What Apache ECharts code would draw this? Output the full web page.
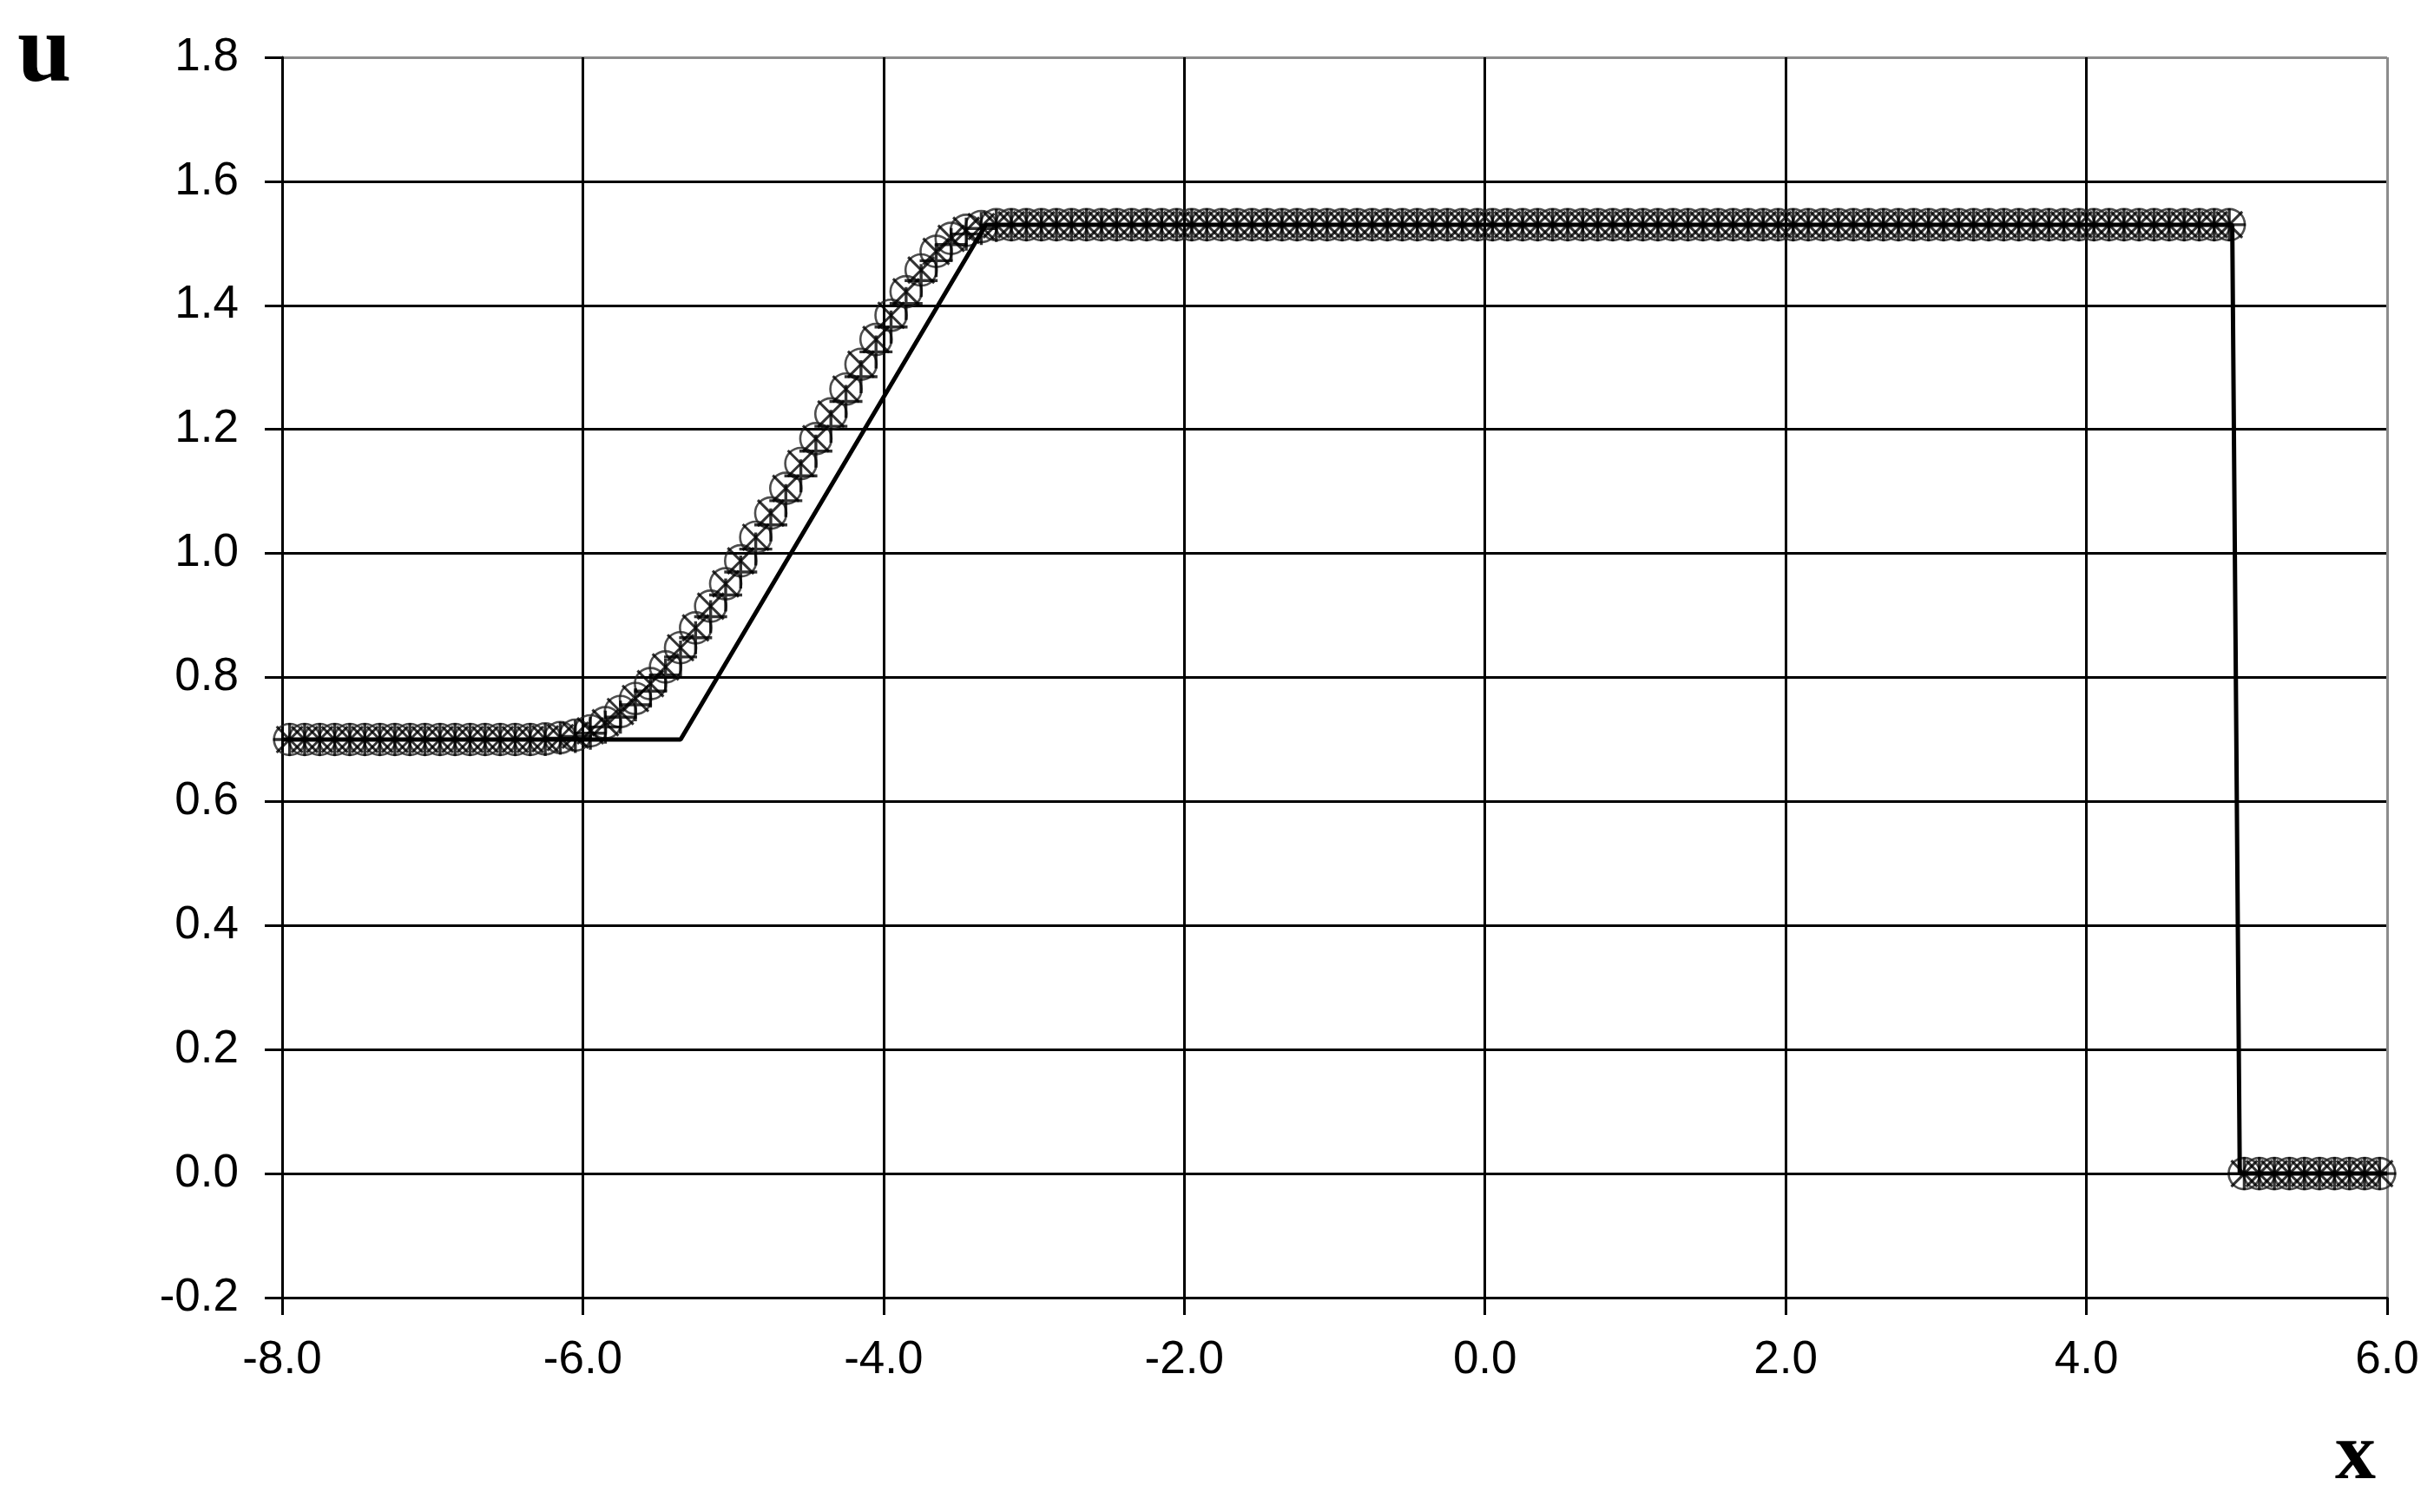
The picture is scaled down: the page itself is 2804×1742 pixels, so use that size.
<!DOCTYPE html>
<html>
<head>
<meta charset="utf-8">
<script src="https://cdn.jsdelivr.net/npm/echarts@6/dist/echarts.min.js"></script>
<style>
html,body{margin:0;padding:0;background:#fff;}
#chart{width:2804px;height:1742px;}
</style>
</head>
<body>
<div id="chart"></div>
<script>
// Cell-centre positions of the numerical solutions
var cellX = [
  -7.95,-7.85,-7.75,-7.65,-7.55,-7.45,-7.35,-7.25,-7.15,-7.05,
  -6.95,-6.85,-6.75,-6.65,-6.55,-6.45,-6.35,-6.25,-6.15,-6.05,
  -5.95,-5.85,-5.75,-5.65,-5.55,-5.45,-5.35,-5.25,-5.15,-5.05,
  -4.95,-4.85,-4.75,-4.65,-4.55,-4.45,-4.35,-4.25,-4.15,-4.05,
  -3.95,-3.85,-3.75,-3.65,-3.55,-3.45,-3.35,-3.25,-3.15,-3.05,
  -2.95,-2.85,-2.75,-2.65,-2.55,-2.45,-2.35,-2.25,-2.15,-2.05,
  -1.95,-1.85,-1.75,-1.65,-1.55,-1.45,-1.35,-1.25,-1.15,-1.05,
  -0.95,-0.85,-0.75,-0.65,-0.55,-0.45,-0.35,-0.25,-0.15,-0.05,
  0.05,0.15,0.25,0.35,0.45,0.55,0.65,0.75,0.85,0.95,
  1.05,1.15,1.25,1.35,1.45,1.55,1.65,1.75,1.85,1.95,
  2.05,2.15,2.25,2.35,2.45,2.55,2.65,2.75,2.85,2.95,
  3.05,3.15,3.25,3.35,3.45,3.55,3.65,3.75,3.85,3.95,
  4.05,4.15,4.25,4.35,4.45,4.55,4.65,4.75,4.85,4.95,
  5.05,5.15,5.25,5.35,5.45,5.55,5.65,5.75,5.85,5.95
];
// Numerical solution 1 (circles / crosses)
var uScheme1 = [
  0.70,0.70,0.70,0.70,0.70,0.70,0.70,0.70,0.70,0.70,
  0.70,0.70,0.70,0.70,0.70,0.70,0.70,0.701,0.703,0.707,
  0.714,0.727,0.745,0.766,0.790,0.817,0.848,0.880,0.915,0.951,
  0.988,1.026,1.065,1.105,1.145,1.185,1.225,1.265,1.305,1.345,
  1.384,1.422,1.457,1.487,1.508,1.521,1.527,1.530,1.530,1.530,
  1.53,1.53,1.53,1.53,1.53,1.53,1.53,1.53,1.53,1.53,
  1.53,1.53,1.53,1.53,1.53,1.53,1.53,1.53,1.53,1.53,
  1.53,1.53,1.53,1.53,1.53,1.53,1.53,1.53,1.53,1.53,
  1.53,1.53,1.53,1.53,1.53,1.53,1.53,1.53,1.53,1.53,
  1.53,1.53,1.53,1.53,1.53,1.53,1.53,1.53,1.53,1.53,
  1.53,1.53,1.53,1.53,1.53,1.53,1.53,1.53,1.53,1.53,
  1.53,1.53,1.53,1.53,1.53,1.53,1.53,1.53,1.53,1.53,
  1.53,1.53,1.53,1.53,1.53,1.53,1.53,1.53,1.53,1.53,
  0,0,0,0,0,0,0,0,0,0
];
// Numerical solution 2 (plus signs)
var uScheme2 = [
  0.70,0.70,0.70,0.70,0.70,0.70,0.70,0.70,0.70,0.70,
  0.70,0.70,0.70,0.70,0.70,0.70,0.70,0.700,0.702,0.705,
  0.710,0.720,0.736,0.756,0.778,0.804,0.833,0.864,0.898,0.933,
  0.970,1.007,1.046,1.085,1.125,1.165,1.205,1.245,1.285,1.325,
  1.365,1.403,1.440,1.472,1.498,1.515,1.524,1.529,1.530,1.530,
  1.53,1.53,1.53,1.53,1.53,1.53,1.53,1.53,1.53,1.53,
  1.53,1.53,1.53,1.53,1.53,1.53,1.53,1.53,1.53,1.53,
  1.53,1.53,1.53,1.53,1.53,1.53,1.53,1.53,1.53,1.53,
  1.53,1.53,1.53,1.53,1.53,1.53,1.53,1.53,1.53,1.53,
  1.53,1.53,1.53,1.53,1.53,1.53,1.53,1.53,1.53,1.53,
  1.53,1.53,1.53,1.53,1.53,1.53,1.53,1.53,1.53,1.53,
  1.53,1.53,1.53,1.53,1.53,1.53,1.53,1.53,1.53,1.53,
  1.53,1.53,1.53,1.53,1.53,1.53,1.53,1.53,1.53,1.53,
  0,0,0,0,0,0,0,0,0,0
];
// Exact solution (solid line)
var exactX = [-8.0, -5.35, -3.32, 4.97, 5.02, 6.0];
var exactU = [0.70, 0.70, 1.53, 1.53, 0.0, 0.0];

// Axis settings
var xTicks = [-8, -6, -4, -2, 0, 2, 4, 6];
var yTicks = [-0.2, 0.0, 0.2, 0.4, 0.6, 0.8, 1.0, 1.2, 1.4, 1.6, 1.8];
var xAxisName = 'x';
var yAxisName = 'u';

function pairs(xs, ys) { return xs.map(function (x, i) { return [x, ys[i]]; }); }
function fmt(v) { if (Math.abs(v) < 1e-9) v = 0; return v.toFixed(1); }

var xColors = xTicks.map(function (t, i) { return i === xTicks.length - 1 ? '#8c8c8c' : '#000'; });
var yColors = yTicks.map(function (t, i) { return i === yTicks.length - 1 ? '#8c8c8c' : '#000'; });

var chart = echarts.init(document.getElementById('chart'), null, { renderer: 'canvas' });
var labelFont = { color: '#000', fontFamily: '"Liberation Sans", Arial, sans-serif', fontSize: 53 };

chart.setOption({
  animation: false,
  backgroundColor: '#fff',
  grid: { left: 325, right: 54, top: 66, bottom: 247, containLabel: false },
  xAxis: {
    type: 'value',
    min: xTicks[0], max: xTicks[xTicks.length - 1], interval: 2,
    axisLine: { show: true, onZero: false, lineStyle: { color: '#000', width: 3 } },
    axisTick: { show: true, inside: false, length: 20, lineStyle: { color: '#000', width: 3 } },
    axisLabel: Object.assign({ margin: 46, formatter: fmt }, labelFont),
    splitLine: { show: true, lineStyle: { color: xColors, width: 3 } }
  },
  yAxis: {
    type: 'value',
    min: yTicks[0], max: yTicks[yTicks.length - 1], interval: 0.2,
    axisLine: { show: true, onZero: false, lineStyle: { color: '#000', width: 3 } },
    axisTick: { show: true, inside: false, length: 20, lineStyle: { color: '#000', width: 3 } },
    axisLabel: Object.assign({ margin: 50, formatter: fmt }, labelFont),
    splitLine: { show: true, lineStyle: { color: yColors, width: 3 } }
  },
  series: [
    {
      name: 'scheme 1 (o)', type: 'scatter', clip: false,
      data: pairs(cellX, uScheme1),
      symbol: 'circle', symbolSize: 36,
      itemStyle: { color: 'rgba(0,0,0,0)', borderColor: '#222', borderWidth: 2.6 },
      z: 3
    },
    {
      name: 'scheme 1 (x)', type: 'scatter', clip: false,
      data: pairs(cellX, uScheme1),
      symbol: 'path://M0,0L10,10M10,0L0,10', symbolSize: 30, symbolKeepAspect: true,
      itemStyle: { color: 'rgba(0,0,0,0)', borderColor: '#000', borderWidth: 3 },
      z: 4
    },
    {
      name: 'scheme 2 (+)', type: 'scatter', clip: false,
      data: pairs(cellX, uScheme2),
      symbol: 'path://M5,0L5,10M0,5L10,5', symbolSize: 38, symbolKeepAspect: true,
      itemStyle: { color: 'rgba(0,0,0,0)', borderColor: '#000', borderWidth: 3.4 },
      z: 4
    },
    {
      name: 'exact', type: 'line', clip: false,
      data: pairs(exactX, exactU),
      showSymbol: false, symbol: 'none',
      lineStyle: { color: '#000', width: 5 },
      z: 5
    }
  ],
  graphic: [
    {
      type: 'text', left: 20, top: 8,
      style: { text: yAxisName, fill: '#000', font: 'bold 112px "Liberation Serif", "Times New Roman", serif' }
    },
    {
      type: 'text', left: 2690, top: 1632,
      style: { text: xAxisName, fill: '#000', font: 'bold 94px "Liberation Serif", "Times New Roman", serif' }
    }
  ]
});
</script>
</body>
</html>
